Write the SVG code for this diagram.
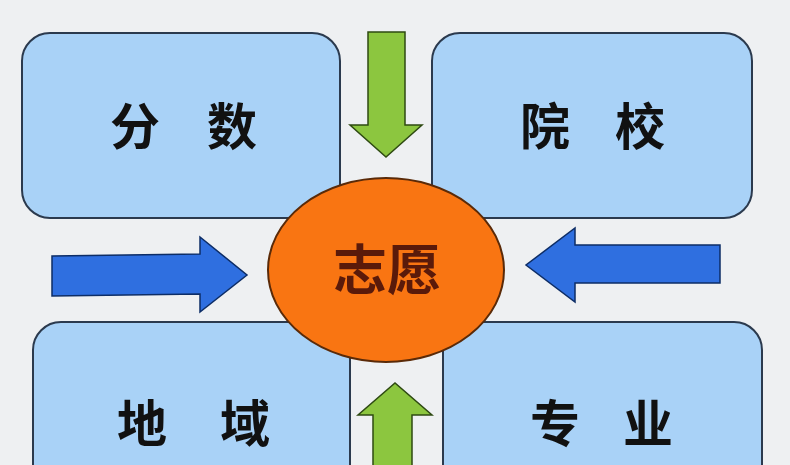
<svg xmlns="http://www.w3.org/2000/svg" width="790" height="465" viewBox="0 0 790 465">
<style>
.box{fill:#a9d2f7;stroke:#2b3a4e;stroke-width:2}
.t{font-family:"Noto Sans CJK SC","Noto Sans",sans-serif;font-weight:bold;font-size:50px;fill:#111;text-anchor:middle}
.g{fill:#8cc63f;stroke:#2e4a12;stroke-width:1.5}
.b{fill:#2f6fe0;stroke:#0d2d66;stroke-width:1.5}
</style>
<rect width="790" height="465" fill="#eef0f2"/>
<g id="n-fenshu"><rect class="box" x="22" y="33" width="318" height="185" rx="28"/><text class="t" x="135" y="145">分</text><text class="t" x="232" y="145">数</text></g>
<g id="n-yuanxiao"><rect class="box" x="432" y="33" width="320" height="185" rx="28"/><text class="t" x="545" y="145">院</text><text class="t" x="640" y="145">校</text></g>
<g id="n-diyu"><rect class="box" x="33" y="322" width="317" height="170" rx="28"/><text class="t" x="142" y="442">地</text><text class="t" x="245" y="442">域</text></g>
<g id="n-zhuanye"><rect class="box" x="443" y="322" width="319" height="170" rx="28"/><text class="t" x="555" y="442">专</text><text class="t" x="648" y="442">业</text></g>
<g id="connectors">
<polygon class="g" points="368,32 405,32 405,125 422,125 386,157 350,125 368,125"/>
<polygon class="g" points="373,470 412,470 412,415 432,415 395,383 358,415 373,415"/>
<polygon class="b" points="52,256 200,254 200,237 247,275 200,312 200,294 52,296"/>
<polygon class="b" points="720,245 575,245 575,228 526,265 575,302 575,283 720,283"/>
</g>
<g id="n-zhiyuan"><ellipse cx="386" cy="270" rx="118" ry="92" fill="#f97512" stroke="#5a2a08" stroke-width="2"/><text class="t" x="387" y="290" style="fill:#5a1a0a;font-size:54px">志愿</text></g>
</svg>
